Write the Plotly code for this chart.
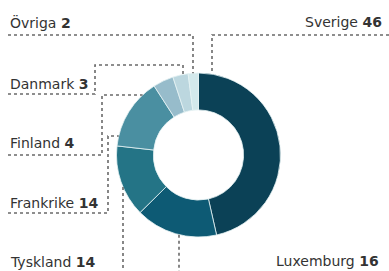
import math
import plotly.graph_objects as go

# ---- data ----
countries = ["Sverige", "Luxemburg", "Tyskland", "Frankrike", "Finland", "Danmark", "Övriga"]
shares = [46, 16, 14, 14, 4, 3, 2]
colors = ["#0b4156", "#0d5a74", "#247486", "#4a8fa1", "#97bccb", "#bcd7df", "#d3e9ec"]

# ---- layout geometry (pixels) ----
W, H = 389, 271
CX, CY, R = 198.5, 155, 82
HOLE = 0.55

def px(x):
    return x / W

def py(y):
    return 1 - y / H

def circle_y_top(x):
    return CY - math.sqrt(R * R - (x - CX) ** 2)

def circle_y_bottom(x):
    return CY + math.sqrt(R * R - (x - CX) ** 2)

def circle_x_left(y):
    return CX - math.sqrt(R * R - (y - CY) ** 2)

fig = go.Figure(go.Pie(
    labels=countries,
    values=shares,
    sort=False,
    direction="clockwise",
    rotation=0,
    hole=HOLE,
    textinfo="none",
    hoverinfo="label+value",
    marker=dict(colors=colors, line=dict(color="#e6f2f4", width=0.8)),
    domain=dict(x=[px(CX - R), px(CX + R)], y=[py(CY + R), py(CY - R)]),
    showlegend=False,
))

# leader line paths (pixel coordinates)
leaders = {
    "Övriga": [(8, 35), (193, 35), (193, circle_y_top(193))],
    "Sverige": [(389, 35), (212, 35), (212, circle_y_top(212))],
    "Danmark": [(8, 94), (95, 94), (95, 65), (183, 65), (183, circle_y_top(183))],
    "Finland": [(8, 155), (102, 155), (102, 95), (circle_x_left(95), 95)],
    "Frankrike": [(8, 213), (108, 213), (108, 136), (circle_x_left(136), 136)],
    "Tyskland": [(123, circle_y_bottom(123)), (123, 271)],
    "Luxemburg": [(179, circle_y_bottom(179)), (179, 271)],
}

shapes = []
for name, pts in leaders.items():
    path = "M " + " L ".join(f"{px(x):.5f},{py(y):.5f}" for x, y in pts)
    shapes.append(dict(type="path", xref="paper", yref="paper", path=path,
                       line=dict(color="#6a6a6a", width=1.6, dash="dot")))

# label positions (pixels): x, y-centre, anchor
label_pos = {
    "Övriga": (8, 23, "left"),
    "Danmark": (8, 84, "left"),
    "Finland": (8, 143, "left"),
    "Frankrike": (8, 203, "left"),
    "Tyskland": (8, 262, "left"),
    "Sverige": (384, 22, "right"),
    "Luxemburg": (381, 261, "right"),
}

annotations = []
for name, val in zip(countries, shares):
    x, y, anchor = label_pos[name]
    annotations.append(dict(
        x=px(x), y=py(y), xref="paper", yref="paper",
        xanchor=anchor, yanchor="middle", showarrow=False,
        text=f"{name} <b>{val}</b>",
        font=dict(family="DejaVu Sans, sans-serif", size=14, color="#333333"),
    ))

fig.update_layout(
    width=W, height=H,
    margin=dict(l=0, r=0, t=0, b=0),
    paper_bgcolor="white",
    plot_bgcolor="white",
    shapes=shapes,
    annotations=annotations,
)

fig.write_html(
    "out.html",
    config={"displayModeBar": False},
    post_script="document.body.style.margin='0';document.body.style.overflow='hidden';",
)
